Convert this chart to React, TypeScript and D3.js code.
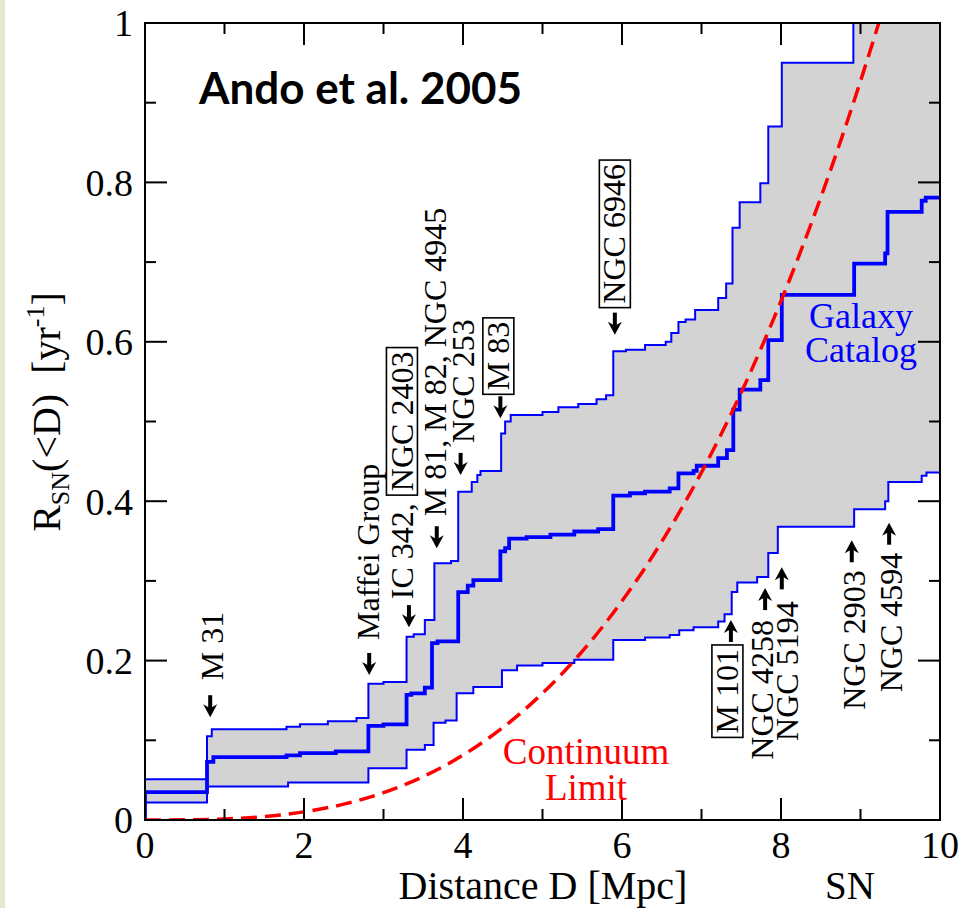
import React, { useEffect, useRef } from "react";
import * as d3 from "d3";

type Pt = [number, number];

// Cumulative supernova rate R_SN(<D) [yr^-1] versus distance D [Mpc]
const upperBound: Pt[] = [
  [0, 0], [0, 0.051], [0.78, 0.105], [0.84, 0.114], [1.78, 0.117], [1.95, 0.12], [2.3, 0.124], [2.66, 0.128],
  [2.81, 0.171], [3.0, 0.173], [3.29, 0.23], [3.38, 0.233], [3.52, 0.251], [3.64, 0.322], [3.85, 0.325],
  [3.94, 0.412], [4.11, 0.424], [4.18, 0.433], [4.22, 0.438], [4.48, 0.485], [4.53, 0.5], [4.6, 0.508],
  [5.0, 0.512], [5.2, 0.518], [5.45, 0.522], [5.68, 0.528], [5.8, 0.533], [5.89, 0.588], [6.05, 0.59],
  [6.29, 0.596], [6.55, 0.6], [6.62, 0.611], [6.71, 0.625], [6.8, 0.628], [6.92, 0.64], [7.21, 0.655],
  [7.31, 0.673], [7.39, 0.743], [7.48, 0.775], [7.74, 0.799], [7.84, 0.87], [8.01, 0.95], [8.91, 1.1], [10, 1.1],
];

const galaxyCatalog: Pt[] = [
  [0, 0], [0, 0.035], [0.78, 0.073], [0.86, 0.079], [1.78, 0.081], [1.95, 0.084], [2.4, 0.086], [2.81, 0.118],
  [3.0, 0.12], [3.29, 0.157], [3.35, 0.159], [3.52, 0.166], [3.61, 0.222], [3.68, 0.224], [3.94, 0.286],
  [4.06, 0.294], [4.13, 0.301], [4.47, 0.337], [4.53, 0.341], [4.58, 0.353], [4.8, 0.355], [5.1, 0.358],
  [5.4, 0.362], [5.7, 0.365], [5.89, 0.407], [6.1, 0.41], [6.29, 0.412], [6.6, 0.416], [6.71, 0.435],
  [6.9, 0.438], [6.94, 0.4445], [7.21, 0.454], [7.32, 0.464], [7.4, 0.515], [7.48, 0.54], [7.74, 0.552],
  [7.84, 0.602], [8.01, 0.659], [8.92, 0.698], [9.31, 0.711], [9.34, 0.763], [9.77, 0.777], [9.82, 0.781],
  [10, 0.781],
];

const lowerBound: Pt[] = [
  [0, 0], [0, 0.022], [0.78, 0.042], [1.8, 0.047], [2.81, 0.065], [3.29, 0.088], [3.52, 0.094], [3.63, 0.122],
  [3.78, 0.125], [3.92, 0.159], [4.13, 0.167], [4.49, 0.188], [4.68, 0.194], [5.0, 0.197], [5.4, 0.201],
  [5.89, 0.226], [6.29, 0.229], [6.6, 0.232], [6.72, 0.238], [6.9, 0.242], [7.21, 0.249], [7.29, 0.258],
  [7.38, 0.286], [7.45, 0.298], [7.7, 0.305], [7.84, 0.335], [7.96, 0.368], [8.92, 0.39], [9.31, 0.4],
  [9.35, 0.424], [9.77, 0.432], [9.83, 0.436], [10, 0.436],
];

const continuumLimit: Pt[] = [
  [0, 0], [0.5, 0.0002], [1, 0.0013], [1.5, 0.0043], [2, 0.0102], [2.5, 0.0199], [3, 0.0343], [3.5, 0.0545],
  [4, 0.0814], [4.5, 0.1159], [5, 0.159], [5.5, 0.2116], [6, 0.2747], [6.5, 0.3492], [7, 0.4362],
  [7.5, 0.5365], [8, 0.6511], [8.5, 0.781], [9, 0.9271], [9.23, 1.0], [9.4, 1.056],
];

const xMajorTicks = [0, 2, 4, 6, 8, 10];
const xTickLabels = ["0", "2", "4", "6", "8", "10"];
const yMajorTicks = [0, 0.2, 0.4, 0.6, 0.8, 1];
const yTickLabels = ["0", "0.2", "0.4", "0.6", "0.8", "1"];
const xMinorTicks = [1, 3, 5, 7, 9];
const yMinorTicks = [0.1, 0.3, 0.5, 0.7, 0.9];

type Part = { text: string; boxed?: boolean };
type Note = { parts: Part[]; distance: number; rate: number; dir: "down" | "up" };

// Individual galaxies marked on the plot (arrow tip at distance / rate)
const notes: Note[] = [
  { parts: [{ text: "M 31" }], distance: 0.82, rate: 0.129, dir: "down" },
  { parts: [{ text: "Maffei Group" }], distance: 2.82, rate: 0.182, dir: "down" },
  { parts: [{ text: "IC 342, " }, { text: "NGC 2403", boxed: true }], distance: 3.32, rate: 0.242, dir: "down" },
  { parts: [{ text: "M 81, M 82, NGC 4945" }], distance: 3.67, rate: 0.341, dir: "down" },
  { parts: [{ text: "NGC 253" }], distance: 3.97, rate: 0.433, dir: "down" },
  { parts: [{ text: "M 83", boxed: true }], distance: 4.47, rate: 0.504, dir: "down" },
  { parts: [{ text: "NGC 6946", boxed: true }], distance: 5.91, rate: 0.609, dir: "down" },
  { parts: [{ text: "M 101", boxed: true }], distance: 7.37, rate: 0.251, dir: "up" },
  { parts: [{ text: "NGC 4258" }], distance: 7.8, rate: 0.291, dir: "up" },
  { parts: [{ text: "NGC 5194" }], distance: 8.01, rate: 0.317, dir: "up" },
  { parts: [{ text: "NGC 2903" }], distance: 8.89, rate: 0.351, dir: "up" },
  { parts: [{ text: "NGC 4594" }], distance: 9.36, rate: 0.373, dir: "up" },
];

// label placement: gap between arrow tail and text, sideways shift of the text
const notePlacement = [
  { gap: 15, dx: 2 },
  { gap: 13, dx: -1 },
  { gap: 6, dx: -7 },
  { gap: 10, dx: -1 },
  { gap: 10, dx: 3 },
  { gap: 2, dx: -2 },
  { gap: 5, dx: 0 },
  { gap: 3, dx: -3.5 },
  { gap: 10, dx: -3 },
  { gap: 12, dx: 6 },
  { gap: 8, dx: 3 },
  { gap: 8, dx: 2 },
];

const W = 966;
const H = 908;
const plot = { left: 145, right: 940, top: 23, bottom: 820 };
const SERIF = "'Liberation Serif', 'Times New Roman', Times, serif";
const BLUE = "#0000ff";
const RED = "#ff0000";

function stepVertices(pts: Pt[]): Pt[] {
  const out: Pt[] = [];
  for (let i = 0; i < pts.length; i++) {
    out.push(pts[i]);
    if (i + 1 < pts.length) out.push([pts[i + 1][0], pts[i][1]]);
  }
  return out;
}

export default function App() {
  const ref = useRef<SVGSVGElement>(null);

  useEffect(() => {
    const svg = d3.select(ref.current);
    svg.selectAll("*").remove();

    const x = d3.scaleLinear().domain([0, 10]).range([plot.left, plot.right]);
    const y = d3.scaleLinear().domain([0, 1]).range([plot.bottom, plot.top]);

    svg.append("rect").attr("width", W).attr("height", H).attr("fill", "#ffffff");
    svg.append("rect").attr("x", 0).attr("y", 0).attr("width", 5).attr("height", H).attr("fill", "#e2e9d2");

    svg
      .append("defs")
      .append("clipPath")
      .attr("id", "plot-clip")
      .append("rect")
      .attr("x", plot.left)
      .attr("y", plot.top)
      .attr("width", plot.right - plot.left)
      .attr("height", plot.bottom - plot.top);

    const body = svg.append("g").attr("clip-path", "url(#plot-clip)");

    // shaded band between the bounds
    const upperV = stepVertices(upperBound);
    const lowerV = stepVertices(lowerBound);
    const band = upperV.concat(lowerV.slice().reverse());
    const poly = d3
      .line<Pt>()
      .x((d) => x(d[0]))
      .y((d) => y(d[1]));
    body.append("path").attr("d", poly(band) + "Z").attr("fill", "#d3d3d3").attr("stroke", "none");

    const step = d3
      .line<Pt>()
      .x((d) => x(d[0]))
      .y((d) => y(d[1]))
      .curve(d3.curveStepAfter);

    body
      .append("path")
      .attr("d", step(upperBound))
      .attr("fill", "none")
      .attr("stroke", BLUE)
      .attr("stroke-width", 2);
    body
      .append("path")
      .attr("d", step(lowerBound))
      .attr("fill", "none")
      .attr("stroke", BLUE)
      .attr("stroke-width", 2);
    body
      .append("path")
      .attr("d", step(galaxyCatalog))
      .attr("fill", "none")
      .attr("stroke", BLUE)
      .attr("stroke-width", 3.8);

    const smooth = d3
      .line<Pt>()
      .x((d) => x(d[0]))
      .y((d) => y(d[1]))
      .curve(d3.curveMonotoneX);
    body
      .append("path")
      .attr("d", smooth(continuumLimit))
      .attr("fill", "none")
      .attr("stroke", RED)
      .attr("stroke-width", 3.5)
      .attr("stroke-dasharray", "16,8");

    // frame and inward ticks
    const axes = svg.append("g").attr("stroke", "#000").attr("stroke-width", 2);
    axes
      .append("rect")
      .attr("x", plot.left)
      .attr("y", plot.top)
      .attr("width", plot.right - plot.left)
      .attr("height", plot.bottom - plot.top)
      .attr("fill", "none");

    const xt = [
      ...xMajorTicks.map((v) => ({ v, len: 22 })),
      ...xMinorTicks.map((v) => ({ v, len: 11 })),
    ];
    xt.forEach(({ v, len }) => {
      axes.append("line").attr("x1", x(v)).attr("x2", x(v)).attr("y1", plot.bottom).attr("y2", plot.bottom - len);
      axes.append("line").attr("x1", x(v)).attr("x2", x(v)).attr("y1", plot.top).attr("y2", plot.top + len);
    });
    const yt = [
      ...yMajorTicks.map((v) => ({ v, len: 22 })),
      ...yMinorTicks.map((v) => ({ v, len: 11 })),
    ];
    yt.forEach(({ v, len }) => {
      axes.append("line").attr("y1", y(v)).attr("y2", y(v)).attr("x1", plot.left).attr("x2", plot.left + len);
      axes.append("line").attr("y1", y(v)).attr("y2", y(v)).attr("x1", plot.right).attr("x2", plot.right - len);
    });

    const labels = svg.append("g").attr("font-family", SERIF).attr("fill", "#000");
    xMajorTicks.forEach((v, i) => {
      labels
        .append("text")
        .attr("x", x(v))
        .attr("y", 858)
        .attr("text-anchor", "middle")
        .attr("font-size", 38)
        .text(xTickLabels[i]);
    });
    yMajorTicks.forEach((v, i) => {
      labels
        .append("text")
        .attr("x", 133)
        .attr("y", y(v))
        .attr("dy", "0.35em")
        .attr("text-anchor", "end")
        .attr("font-size", 38)
        .text(yTickLabels[i]);
    });

    labels
      .append("text")
      .attr("x", 543)
      .attr("y", 899)
      .attr("text-anchor", "middle")
      .attr("font-size", 40)
      .text("Distance D [Mpc]");
    labels
      .append("text")
      .attr("x", 850)
      .attr("y", 899)
      .attr("text-anchor", "middle")
      .attr("font-size", 39)
      .text("SN");

    // y-axis title
    const yl = labels
      .append("text")
      .attr("transform", "translate(60,412) rotate(-90)")
      .attr("text-anchor", "middle")
      .attr("font-size", 40);
    yl.append("tspan").text("R");
    yl.append("tspan").attr("font-size", 26).attr("dy", 9).text("SN");
    yl.append("tspan").attr("dy", -9).text("(<D)\u00A0\u00A0[yr");
    yl.append("tspan").attr("font-size", 26).attr("dy", -16).text("-1");
    yl.append("tspan").attr("dy", 16).text("]");

    // Study reference
    svg
      .append("text")
      .attr("x", 199)
      .attr("y", 104)
      .attr("font-family", "Lato, 'Open Sans', sans-serif")
      .attr("font-weight", 700)
      .attr("font-size", 44)
      .attr("fill", "#000")
      .text("Ando et al. 2005");

    const galaxyLabel = svg
      .append("g")
      .attr("font-family", SERIF)
      .attr("font-size", 36)
      .attr("fill", BLUE)
      .attr("text-anchor", "middle");
    galaxyLabel.append("text").attr("x", 861).attr("y", 328).text("Galaxy");
    galaxyLabel.append("text").attr("x", 861).attr("y", 362).text("Catalog");

    const contLabel = svg
      .append("g")
      .attr("font-family", SERIF)
      .attr("font-size", 37)
      .attr("fill", RED)
      .attr("text-anchor", "middle");
    contLabel.append("text").attr("x", 586).attr("y", 764).text("Continuum");
    contLabel.append("text").attr("x", 586).attr("y", 800).text("Limit");

    // galaxy annotations with arrows
    const noteFont = 32;
    const boxH = 31;
    const pad = 4;
    const ann = svg.append("g");
    notes.forEach((n, i) => {
      const place = notePlacement[i];
      const ax = x(n.distance);
      const tipY = y(n.rate);
      const s = n.dir === "down" ? 1 : -1;
      const tailY = tipY - s * 22;
      ann
        .append("line")
        .attr("x1", ax)
        .attr("x2", ax)
        .attr("y1", tailY)
        .attr("y2", tipY - s * 8)
        .attr("stroke", "#000")
        .attr("stroke-width", 4);
      ann
        .append("path")
        .attr(
          "d",
          `M${ax},${tipY} L${ax - 7},${tipY - s * 13} L${ax},${tipY - s * 9} L${ax + 7},${tipY - s * 13} Z`
        )
        .attr("fill", "#000");

      const anchorY = tailY - s * place.gap;
      const g = ann.append("g").attr("transform", `translate(${ax + place.dx},${anchorY}) rotate(-90)`);
      const inner = g.append("g");
      let pos = 0;
      n.parts.forEach((p) => {
        if (p.boxed) pos += pad;
        const t = inner
          .append("text")
          .attr("x", pos)
          .attr("y", noteFont * 0.33)
          .attr("font-family", SERIF)
          .attr("font-size", noteFont)
          .attr("fill", "#000")
          .style("white-space", "pre")
          .text(p.text);
        const len = (t.node() as SVGTextElement).getComputedTextLength();
        if (p.boxed) {
          inner
            .append("rect")
            .attr("x", pos - pad)
            .attr("y", -boxH / 2)
            .attr("width", len + 2 * pad)
            .attr("height", boxH)
            .attr("fill", "none")
            .attr("stroke", "#000")
            .attr("stroke-width", 1.6);
          pos += len + pad;
        } else {
          pos += len;
        }
      });
      if (n.dir === "up") inner.attr("transform", `translate(${-pos},0)`);
    });
  }, []);

  return (
    <svg
      ref={ref}
      width={W}
      height={H}
      style={{ position: "absolute", left: 0, top: 0, display: "block" }}
    />
  );
}
